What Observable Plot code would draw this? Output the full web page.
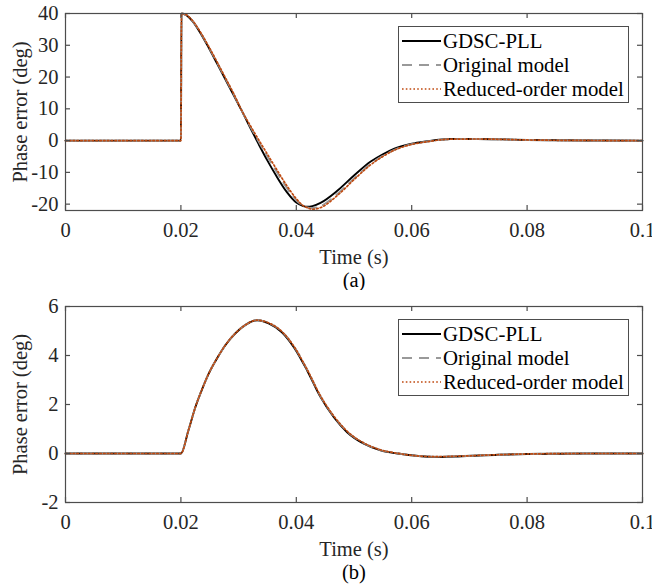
<!DOCTYPE html>
<html>
<head>
<meta charset="utf-8">
<script src="https://cdn.jsdelivr.net/npm/d3@7"></script>
<script src="https://cdn.jsdelivr.net/npm/@observablehq/plot@0.6"></script>
<style>
  body { margin: 0; background: #fff; font-family: "Liberation Serif", "Times New Roman", serif; }
  .panel { position: relative; width: 652px; }
  .panel svg { display: block; }
  .legend { position: absolute; left: 398px; width: 231px; height: 77px; box-sizing: border-box;
            border: 1px solid #4d4d4d; background: #fff; padding-top: 2px; font-size: 20.8px; color: #000;
            white-space: nowrap; }
  .row { display: flex; align-items: center; height: 24px; }
  .row svg { display: block; margin-left: 3px; margin-right: 2px; }
</style>
</head>
<body>
<div id="chart"></div>
<script>
// ---------- data ----------
const seriesNames = ["GDSC-PLL", "Original model", "Reduced-order model"];
const seriesColors = ["#000000", "#999999", "#c04a10"];
const seriesDash = [null, "10,7", "1.6,2.2"];
const seriesWidth = [1.9, 1.9, 1.7];

const xTicks = [0, 0.02, 0.04, 0.06, 0.08, 0.1];
const xTickLabels = ["0", "0.02", "0.04", "0.06", "0.08", "0.1"];

// panel (a)
const aTime = [0, 0.02, 0.0201, 0.021, 0.022, 0.0235, 0.0248, 0.0262, 0.0277, 0.0292, 0.0306, 0.032, 0.0335, 0.035, 0.0365, 0.0384, 0.04, 0.0412, 0.0419, 0.0428, 0.0442, 0.0471, 0.05, 0.0529, 0.055, 0.0569, 0.0598, 0.0627, 0.0667, 0.0714, 0.0754, 0.08, 0.09, 0.1];
const aGdsc = [0, 0, 40, 39.4, 37.6, 33.5, 29.3, 24.5, 19.3, 14.1, 9.2, 4.1, -1.2, -6.3, -11.0, -16.3, -19.5, -20.6, -20.8, -20.6, -19.6, -15.8, -11.0, -6.6, -4.3, -2.6, -1.05, -0.2, 0.5, 0.5, 0.4, 0.2, 0.05, 0];
const aOrig = [0, 0, 40, 39.4, 37.7, 33.7, 29.5, 24.8, 19.6, 14.4, 9.2, 4.5, -0.4, -5.1, -9.6, -15.0, -18.8, -20.5, -21.0, -21.2, -20.6, -16.8, -11.9, -7.3, -4.8, -3.0, -1.2, -0.3, 0.45, 0.5, 0.4, 0.2, 0.05, 0];
const aRed = [0, 0, 40, 39.5, 37.8, 33.8, 29.7, 25.0, 19.8, 14.6, 9.3, 4.8, 0.2, -4.3, -8.8, -14.3, -18.3, -20.5, -21.1, -21.6, -21.1, -17.3, -12.3, -7.6, -5.0, -3.1, -1.3, -0.35, 0.45, 0.5, 0.4, 0.2, 0.05, 0];
const aYTicks = [-20, -10, 0, 10, 20, 30, 40];
const aYTickLabels = ["-20", "-10", "0", "10", "20", "30", "40"];

// panel (b)
const bTime = [0, 0.02, 0.0213, 0.0225, 0.0237, 0.0248, 0.0263, 0.0277, 0.0295, 0.0312, 0.0332, 0.0352, 0.0375, 0.0396, 0.0419, 0.0442, 0.0465, 0.0488, 0.0517, 0.0546, 0.0575, 0.0598, 0.0638, 0.068, 0.075, 0.08, 0.09, 0.1];
const bGdsc = [0, 0, 0.94, 1.89, 2.64, 3.25, 3.90, 4.42, 4.92, 5.25, 5.44, 5.31, 4.95, 4.33, 3.38, 2.30, 1.48, 0.87, 0.40, 0.13, 0.0, -0.07, -0.14, -0.12, -0.05, -0.02, 0, 0];
const bOrig = [0, 0, 0.94, 1.89, 2.64, 3.25, 3.90, 4.42, 4.92, 5.25, 5.44, 5.33, 4.98, 4.37, 3.42, 2.34, 1.52, 0.90, 0.42, 0.14, 0.01, -0.07, -0.13, -0.11, -0.05, -0.02, 0, 0];
const bRed = [0, 0, 0.94, 1.89, 2.64, 3.25, 3.90, 4.42, 4.92, 5.25, 5.44, 5.33, 4.98, 4.37, 3.42, 2.35, 1.53, 0.91, 0.43, 0.15, 0.01, -0.07, -0.13, -0.11, -0.05, -0.02, 0, 0];
const bYTicks = [-2, 0, 2, 4, 6];
const bYTickLabels = ["-2", "0", "2", "4", "6"];

// ---------- drawing ----------
const FONT = '"Liberation Serif", "Times New Roman", serif';
const FS = 20.5;
const AX = "#4d4d4d";
const TXT = "#262626";

function makePanel({time, values, yDomain, yTicks, yTickLabels, caption, height, marginTop, marginBottom, legendTop}) {
  const width = 652, marginLeft = 65, marginRight = 10;
  const innerH = height - marginTop - marginBottom;
  const innerW = width - marginLeft - marginRight;
  const lines = seriesNames.map((name, i) =>
    Plot.line(time.map((t, j) => ({t, v: values[i][j]})), {
      x: "t", y: "v", stroke: seriesColors[i], strokeWidth: seriesWidth[i],
      strokeDasharray: seriesDash[i] || undefined, curve: "monotone-x"
    })
  );
  const svg = Plot.plot({
    width, height, marginTop, marginBottom, marginLeft, marginRight,
    style: {background: "#fff", fontFamily: FONT, overflow: "visible"},
    x: {domain: [0, 0.1], axis: null},
    y: {domain: yDomain, axis: null},
    marks: [
      ...lines,
      Plot.frame({stroke: AX, strokeWidth: 1.2}),
      Plot.ruleX(xTicks, {x: d => d, insetTop: innerH - 5, stroke: AX, strokeWidth: 1.2}),
      Plot.ruleX(xTicks, {x: d => d, insetBottom: innerH - 5, stroke: AX, strokeWidth: 1.2}),
      Plot.ruleY(yTicks, {y: d => d, insetRight: innerW - 5, stroke: AX, strokeWidth: 1.2}),
      Plot.ruleY(yTicks, {y: d => d, insetLeft: innerW - 5, stroke: AX, strokeWidth: 1.2}),
      Plot.text(xTicks, {x: d => d, text: (d, i) => xTickLabels[i], frameAnchor: "bottom", dy: 20,
        textAnchor: "middle", lineAnchor: "middle", fontSize: FS, fill: TXT, fontFamily: FONT}),
      Plot.text(yTicks, {y: d => d, text: (d, i) => yTickLabels[i], frameAnchor: "left", dx: -7,
        textAnchor: "end", lineAnchor: "middle", fontSize: FS, fill: TXT, fontFamily: FONT}),
      Plot.text(["Phase error (deg)"], {text: d => d, frameAnchor: "left", dx: -45, rotate: -90,
        textAnchor: "middle", lineAnchor: "middle", fontSize: FS, fill: TXT, fontFamily: FONT}),
      Plot.text(["Time (s)"], {text: d => d, frameAnchor: "bottom", dy: 47,
        textAnchor: "middle", lineAnchor: "middle", fontSize: FS, fill: TXT, fontFamily: FONT}),
      Plot.text([caption], {text: d => d, frameAnchor: "bottom", dy: 70,
        textAnchor: "middle", lineAnchor: "middle", fontSize: FS, fill: "#000", fontFamily: FONT})
    ]
  });
  const panel = document.createElement("div");
  panel.className = "panel";
  panel.appendChild(svg);
  const legend = document.createElement("div");
  legend.className = "legend";
  legend.style.top = legendTop + "px";
  seriesNames.forEach((name, i) => {
    const row = document.createElement("div");
    row.className = "row";
    const dash = seriesDash[i] ? `stroke-dasharray="${seriesDash[i]}"` : "";
    row.innerHTML = `<svg width="39" height="24"><line x1="0" y1="12" x2="39" y2="12" stroke="${seriesColors[i]}" stroke-width="${seriesWidth[i]}" ${dash}/></svg><span>${name}</span>`;
    legend.appendChild(row);
  });
  panel.appendChild(legend);
  return panel;
}

const chart = document.getElementById("chart");
chart.appendChild(makePanel({
  time: aTime, values: [aGdsc, aOrig, aRed], yDomain: [-22, 40], yTicks: aYTicks, yTickLabels: aYTickLabels,
  caption: "(a)", height: 290, marginTop: 13, marginBottom: 80, legendTop: 26
}));
chart.appendChild(makePanel({
  time: bTime, values: [bGdsc, bOrig, bRed], yDomain: [-2, 6], yTicks: bYTicks, yTickLabels: bYTickLabels,
  caption: "(b)", height: 294, marginTop: 16, marginBottom: 82, legendTop: 29
}));
</script>
</body>
</html>
